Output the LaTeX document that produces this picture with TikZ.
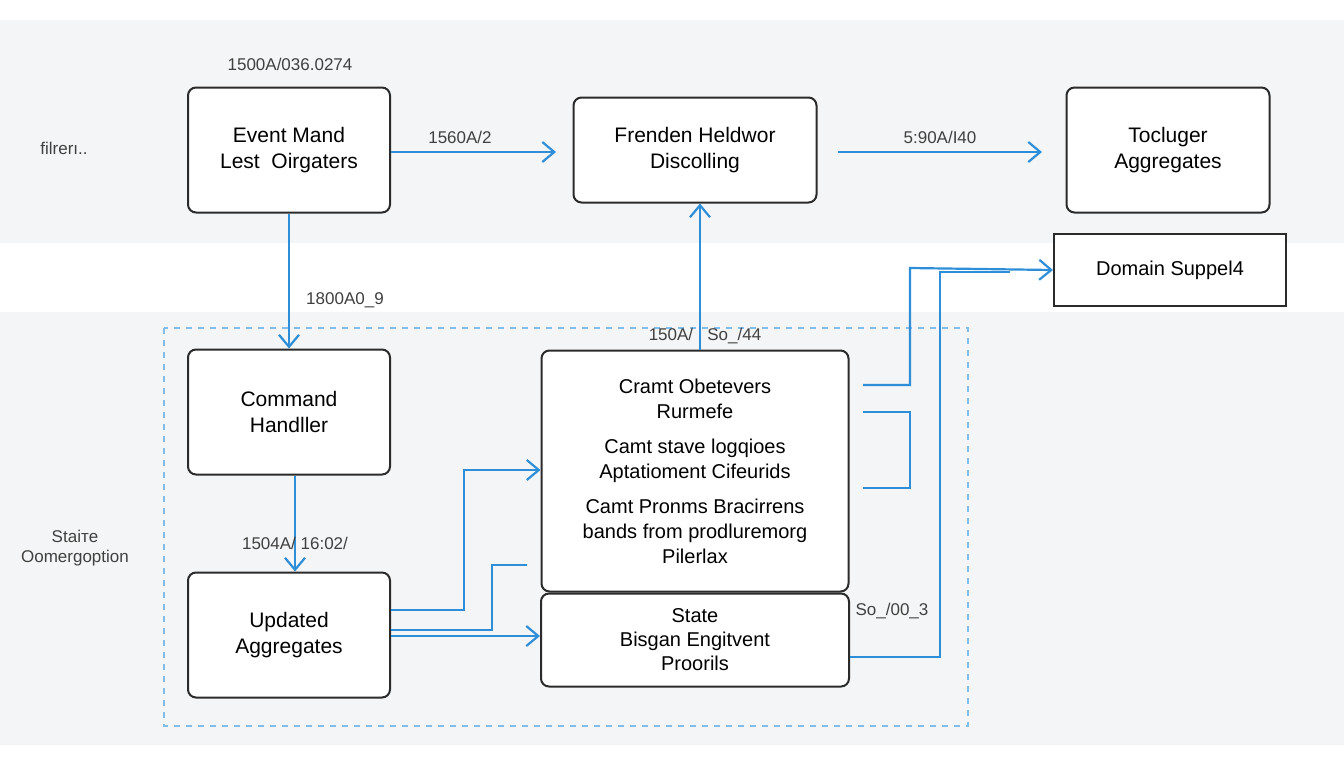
\documentclass[tikz,border=0pt]{standalone}
\usepackage{fontspec}
\setmainfont{Liberation Sans}
\usetikzlibrary{arrows.meta}
\definecolor{bl}{HTML}{2E8FD8}
\definecolor{bg}{HTML}{F4F5F6}
\definecolor{bd}{HTML}{2B2B2B}
\begin{document}
\begin{tikzpicture}[x=0.5pt,y=-0.5pt,
 box/.style={draw=bd,line width=1pt,rounded corners=4pt,fill=white,align=center,font=\fontsize{10.5}{13}\selectfont},
 lab/.style={font=\fontsize{8.5}{10}\selectfont,text=black!75,align=center},
 arr/.style={draw=bl,line width=1.1pt,-{Straight Barb[length=6pt,width=10pt]}},
 ln/.style={draw=bl,line width=1.1pt}]
\useasboundingbox (0,0) rectangle (1344,768);
\fill[white] (0,0) rectangle (1344,768);
\fill[bg] (0,20) rectangle (1344,243);
\fill[bg] (0,312) rectangle (1344,745);
\draw[bl!60,dashed,line width=0.8pt] (164,328) rectangle (968,726);
\node[box,minimum width=101pt,minimum height=62.5pt] (ev) at (289,150) {Event Mand\\Lest\ \ Oirgaters};
\node[box,minimum width=121.5pt,minimum height=52.5pt] (fr) at (695,150) {Frenden Heldwor\\Discolling};
\node[box,minimum width=101.5pt,minimum height=62.5pt] (to) at (1168,150) {Tocluger\\Aggregates};
\node[box,rounded corners=0pt,minimum width=116pt,minimum height=36pt,font=\fontsize{10}{12}\selectfont] (dom) at (1170,270) {Domain Suppel4};
\node[box,minimum width=101pt,minimum height=62.5pt] (cmd) at (289,412) {Command\\Handller};
\node[box,minimum width=101pt,minimum height=62.5pt] (up) at (289,635) {Updated\\Aggregates};
\node[box,minimum width=153.5pt,minimum height=120.5pt,font=\fontsize{10}{12.5}\selectfont] (big) at (695,471) {Cramt Obetevers\\Rurmefe\\[5pt]Camt stave logqioes\\Aptatioment Cifeurids\\[5pt]Camt Pronms Bracirrens\\bands from prodluremorg\\Pilerlax};
\node[box,minimum width=154pt,minimum height=46.5pt,font=\fontsize{10}{12}\selectfont] (st) at (695,640) {State\\Bisgan Engitvent\\Proorils};
\draw[arr] (ev.east|-0,152) -- (556,152);
\draw[arr] (838,152) -- (1042,152);
\draw[arr] (ev.south) -- (cmd.north);
\draw[arr] (big.north-|700,0) -- (fr.south-|700,0);
\draw[arr] (cmd.south-|295,0) -- (up.north-|295,0);
\draw[arr] (up.east|-0,610) -| (464,470) -- (big.west|-0,470);
\draw[arr] (up.east|-0,636) -- (st.west|-0,636);
\draw[ln] (up.east|-0,630) -| (492,565) -- (527,565);
\draw[arr] (863,385) -| (910,268) -- (dom.west);
\draw[ln] (863,412) -| (910,488) -- (863,488);
\draw[ln] (st.east|-0,657) -| (940,272) -- (1010,272);
\node[lab] at (290,64) {1500A/036.0274};
\node[lab] at (460,137) {1560A/2};
\node[lab] at (940,137) {5:90A/I40};
\node[lab] at (345,300) {1800A0\_9};
\node[lab] at (705,336) {150A/\ \ \ So\_/44};
\node[lab] at (295,543) {1504A/ 16:02/};
\node[lab] at (892,611) {So\_/00\_3};
\node[lab] at (64,148) {filrerı..};
\node[lab] at (75,548) {Staiтe\\Oomergoption};
\end{tikzpicture}
\end{document}
